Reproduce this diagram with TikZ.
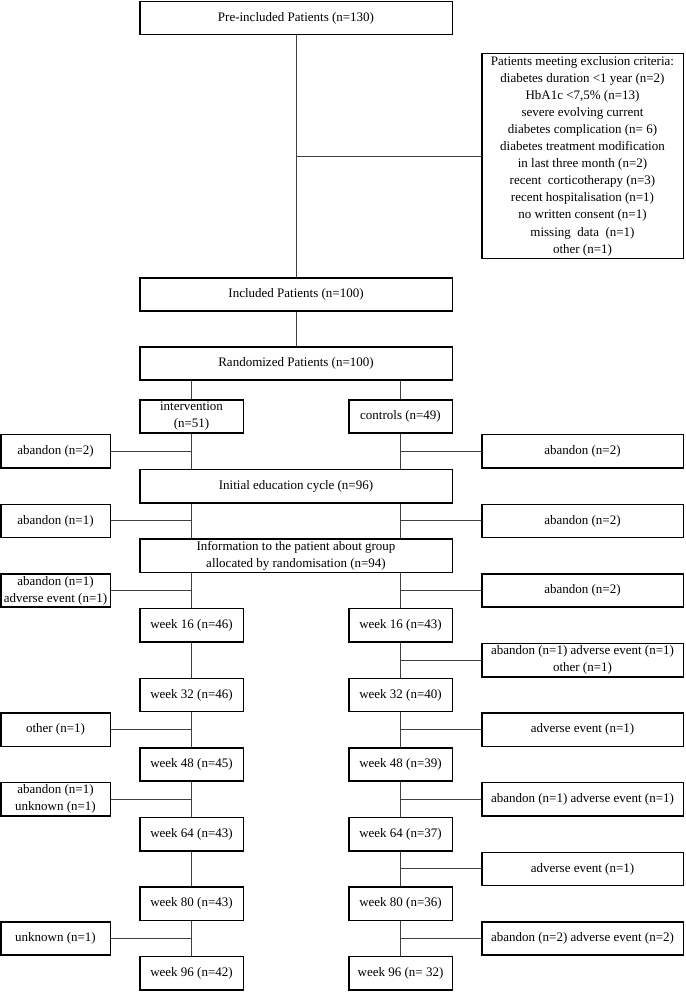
\documentclass[tikz,border=0pt]{standalone}
\usepackage{fontspec}
\setmainfont{Liberation Serif}
\usetikzlibrary{positioning}

\tikzset{
  box/.style={draw, line width=1.5pt, inner sep=0pt, align=center,
    minimum height=33.3pt, font=\fontsize{13}{17.1}\selectfont},
  wide/.style={box, minimum width=312.5pt},
  small/.style={box, minimum width=103.5pt},
  sideL/.style={box, minimum width=109.5pt},
  sideR/.style={box, minimum width=201.5pt},
  link/.style={line width=0.9pt, draw=black!75},
}

\begin{document}
\begin{tikzpicture}[x=1pt,y=-1pt]
        \useasboundingbox (0,0) rectangle (685,992);

        % screening
        \node[wide] (pre) at (296,18) {Pre-included Patients (n=130)};
        \node[sideR, minimum height=204.5pt] (excl) at (582.5,156) {Patients meeting exclusion criteria:\\
            diabetes duration <1 year (n=2)\\ HbA1c <7,5\% (n=13)\\ severe evolving current\\
            diabetes complication (n= 6)\\ diabetes treatment modification\\ in last three month (n=2)\\
            recent~ corticotherapy (n=3)\\ recent hospitalisation (n=1)\\ no written consent (n=1)\\
            missing~ data~ (n=1)\\ other (n=1)};
        \node[wide] (incl) at (296,294.5) {Included Patients (n=100)};
        \node[wide] (rand) at (296,363.5) {Randomized Patients (n=100)};

        % groups
        \node[small] (int) at (191.5,416.5) {intervention\\(n=51)};
        \node[small] (ctrl) at (400.5,416.5) {controls (n=49)};
        \node[sideL] (outL1) at (55.5,451.3) {abandon (n=2)};
        \node[sideR] (outR1) at (582.5,451.3) {abandon (n=2)};
        \node[wide] (edu) at (296,486.1) {Initial education cycle (n=96)};
        \node[sideL] (outL2) at (55.5,520.9) {abandon (n=1)};
        \node[sideR] (outR2) at (582.5,520.9) {abandon (n=2)};
        \node[wide] (info) at (296,555.7) {Information to the patient about group\\allocated by randomisation (n=94)};
        \node[sideL] (outL3) at (55.5,590.5) {abandon (n=1)\\adverse event (n=1)};
        \node[sideR] (outR3) at (582.5,590.5) {abandon (n=2)};

        % follow-up
        \node[small] (wL16) at (191.5,625.3) {week 16 (n=46)};
        \node[small] (wR16) at (400.5,625.3) {week 16 (n=43)};
        \node[sideR] (outR4) at (582.5,660.1) {abandon (n=1) adverse event (n=1)\\other (n=1)};
        \node[small] (wL32) at (191.5,694.9) {week 32 (n=46)};
        \node[small] (wR32) at (400.5,694.9) {week 32 (n=40)};
        \node[sideL] (outL5) at (55.5,729.7) {other (n=1)};
        \node[sideR] (outR5) at (582.5,729.7) {adverse event (n=1)};
        \node[small] (wL48) at (191.5,764.5) {week 48 (n=45)};
        \node[small] (wR48) at (400.5,764.5) {week 48 (n=39)};
        \node[sideL] (outL6) at (55.5,799.3) {abandon (n=1)\\unknown (n=1)};
        \node[sideR] (outR6) at (582.5,799.3) {abandon (n=1) adverse event (n=1)};
        \node[small] (wL64) at (191.5,834.1) {week 64 (n=43)};
        \node[small] (wR64) at (400.5,834.1) {week 64 (n=37)};
        \node[sideR] (outR7) at (582.5,868.9) {adverse event (n=1)};
        \node[small] (wL80) at (191.5,903.7) {week 80 (n=43)};
        \node[small] (wR80) at (400.5,903.7) {week 80 (n=36)};
        \node[sideL] (outL8) at (55.5,938.5) {unknown (n=1)};
        \node[sideR] (outR8) at (582.5,938.5) {abandon (n=2) adverse event (n=2)};
        \node[small] (wL96) at (191.5,973.3) {week 96 (n=42)};
        \node[small] (wR96) at (400.5,973.3) {week 96 (n= 32)};

        % connectors
        \draw[link] (pre) -- (incl);
        \draw[link] (excl.west) -- (excl.west -| pre.south);
        \draw[link] (incl) -- (rand);
        \draw[link] (int.north) -- (int.north |- rand.south);
        \draw[link] (ctrl.north) -- (ctrl.north |- rand.south);
        \draw[link] (int.south) -- (int.south |- edu.north);
        \draw[link] (ctrl.south) -- (ctrl.south |- edu.north);
        \draw[link] (edu.south -| int) -- (info.north -| int);
        \draw[link] (edu.south -| ctrl) -- (info.north -| ctrl);
        \draw[link] (info.south -| int) -- (wL16.north);
        \draw[link] (info.south -| ctrl) -- (wR16.north);
        \draw[link] (wL16) -- (wL32);
        \draw[link] (wL32) -- (wL48);
        \draw[link] (wL48) -- (wL64);
        \draw[link] (wL64) -- (wL80);
        \draw[link] (wL80) -- (wL96);
        \draw[link] (wR16) -- (wR32);
        \draw[link] (wR32) -- (wR48);
        \draw[link] (wR48) -- (wR64);
        \draw[link] (wR64) -- (wR80);
        \draw[link] (wR80) -- (wR96);

        \draw[link] (outL1.east) -- (outL1.east -| int);
        \draw[link] (outL2.east) -- (outL2.east -| int);
        \draw[link] (outL3.east) -- (outL3.east -| int);
        \draw[link] (outL5.east) -- (outL5.east -| int);
        \draw[link] (outL6.east) -- (outL6.east -| int);
        \draw[link] (outL8.east) -- (outL8.east -| int);
        \draw[link] (outR1.west) -- (outR1.west -| ctrl);
        \draw[link] (outR2.west) -- (outR2.west -| ctrl);
        \draw[link] (outR3.west) -- (outR3.west -| ctrl);
        \draw[link] (outR4.west) -- (outR4.west -| ctrl);
        \draw[link] (outR5.west) -- (outR5.west -| ctrl);
        \draw[link] (outR6.west) -- (outR6.west -| ctrl);
        \draw[link] (outR7.west) -- (outR7.west -| ctrl);
        \draw[link] (outR8.west) -- (outR8.west -| ctrl);
\end{tikzpicture}
\end{document}
